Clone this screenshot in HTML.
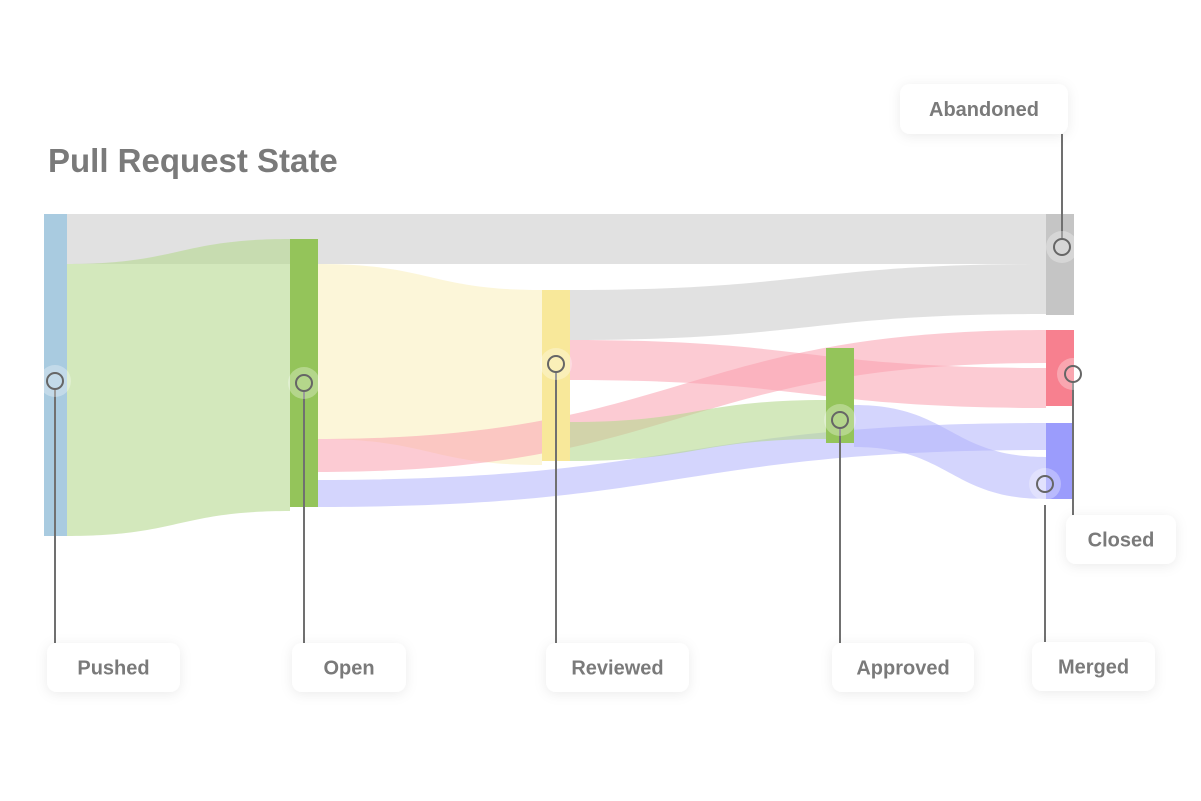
<!DOCTYPE html>
<html><head><meta charset="utf-8"><style>
html,body{margin:0;padding:0;background:#fff;}
svg{display:block;font-family:"Liberation Sans",sans-serif;}
</style></head><body>
<svg id="chart" width="1201" height="801" viewBox="0 0 1201 801">
<defs>
<filter id="sh" x="-20%" y="-30%" width="140%" height="170%"><feDropShadow dx="0" dy="2" stdDeviation="6" flood-color="#000" flood-opacity="0.08"/></filter>
</defs>
<text x="48" y="172" font-size="33" font-weight="bold" fill="#7a7a7a">Pull Request State</text>
<g id="links"></g><g id="nodes"></g><g id="labels"></g>
</svg>
<script>
// Node data
const nodeNames = ["Pushed","Open","Reviewed","Approved","Abandoned","Closed","Merged"];
const nodeColors = ["#a9cbe0","#94c45a","#f8e89a","#94c45a","#c5c5c5","#f7808f","#9b9cfc"];
// Link data
const linkSource = [0,0,1,1,1,2,2,2,3];
const linkTarget = [4,1,2,5,6,4,5,3,6];
const linkValue  = [50,272,175,33,27,50,40,39,42];
const linkColors = ["#c8c8c8","#b5d98f","#f7e89f","#f9a0ae","#b0b3fb","#c8c8c8","#f9a0ae","#b5d98f","#b0b3fb"];
const linkOpacity = [0.55,0.6,0.4,0.55,0.55,0.55,0.55,0.6,0.55];
// Layout
const nodeX = [44,290,542,826,1046,1046,1046];
const nodeW = [23,28,28,28,28,28,28];
const nodeTop = [214,239,290,348,214,330,423];
const nodeH = [322,268,171,95,101,76,76];
const outGap = [[0,0],[25,0,8],[0,0,42],[57],[],[],[]];
const inGap = [[],[0],[0],[52],[0,0],[0,5],[0,7]];
const markerPos = [[55,381],[304,383],[556,364],[840,420],[1062,247],[1073,374],[1045,484]];
const labelBox = [[47,643,133,49],[292,643,114,49],[546,643,143,49],[832,643,142,49],[900,84,168,50],[1066,515,110,49],[1032,642,123,49]];
const leaders = [[55,389,55,643],[304,391,304,643],[556,372,556,643],[840,428,840,643],[1062,239,1062,134],[1073,382,1073,515],[1045,505,1045,642]];

const NS="http://www.w3.org/2000/svg";
const gl=document.getElementById('links'),gn=document.getElementById('nodes'),gb=document.getElementById('labels');
const outOff=nodeTop.map(()=>0),inOff=nodeTop.map(()=>0),outCnt=nodeTop.map(()=>0),inCnt=nodeTop.map(()=>0);
for(let i=0;i<linkValue.length;i++){
  const s=linkSource[i],t=linkTarget[i],v=linkValue[i];
  outOff[s]+=(outGap[s][outCnt[s]++]||0);
  inOff[t]+=(inGap[t][inCnt[t]++]||0);
  const x0=nodeX[s]+nodeW[s],x1=nodeX[t];
  const y0=nodeTop[s]+outOff[s],y1=nodeTop[t]+inOff[t];
  outOff[s]+=v;inOff[t]+=v;
  const xm=(x0+x1)/2;
  const p=document.createElementNS(NS,'path');
  p.setAttribute('d',`M${x0},${y0}C${xm},${y0} ${xm},${y1} ${x1},${y1}L${x1},${y1+v}C${xm},${y1+v} ${xm},${y0+v} ${x0},${y0+v}Z`);
  p.setAttribute('fill',linkColors[i]);p.setAttribute('fill-opacity',linkOpacity[i]);
  
  
  gl.appendChild(p);
}
for(let i=0;i<nodeNames.length;i++){
  const r=document.createElementNS(NS,'rect');
  r.setAttribute('x',nodeX[i]);r.setAttribute('y',nodeTop[i]);r.setAttribute('width',nodeW[i]);r.setAttribute('height',nodeH[i]);r.setAttribute('fill',nodeColors[i]);
  
  
  gn.appendChild(r);
}
for(let i=0;i<nodeNames.length;i++){
  const [x,y]=markerPos[i],l=leaders[i],b=labelBox[i];
  const ln=document.createElementNS(NS,'line');
  ln.setAttribute('x1',l[0]);ln.setAttribute('y1',l[1]);ln.setAttribute('x2',l[2]);ln.setAttribute('y2',l[3]);ln.setAttribute('stroke','#707070');ln.setAttribute('stroke-width','2');
  
  
  gb.appendChild(ln);
  const h=document.createElementNS(NS,'circle');
  h.setAttribute('cx',x);h.setAttribute('cy',y);h.setAttribute('r','16');h.setAttribute('fill','#fff');h.setAttribute('fill-opacity','0.3');
  
  
  gb.appendChild(h);
  const c=document.createElementNS(NS,'circle');
  c.setAttribute('cx',x);c.setAttribute('cy',y);c.setAttribute('r','8');c.setAttribute('fill','none');c.setAttribute('stroke','#666');c.setAttribute('stroke-width','2');
  
  
  gb.appendChild(c);
  const br=document.createElementNS(NS,'rect');
  br.setAttribute('x',b[0]);br.setAttribute('y',b[1]);br.setAttribute('width',b[2]);br.setAttribute('height',b[3]);br.setAttribute('rx','10');br.setAttribute('fill','#fff');br.setAttribute('filter','url(#sh)');
  
  
  gb.appendChild(br);
  const t=document.createElementNS(NS,'text');
  t.setAttribute('x',b[0]+b[2]/2);t.setAttribute('y',b[1]+b[3]/2+7);t.setAttribute('text-anchor','middle');t.setAttribute('font-size','20');t.setAttribute('font-weight','bold');t.setAttribute('fill','#7a7a7a');
  t.textContent=nodeNames[i];
  
  
  gb.appendChild(t);
}
</script>
</body></html>
